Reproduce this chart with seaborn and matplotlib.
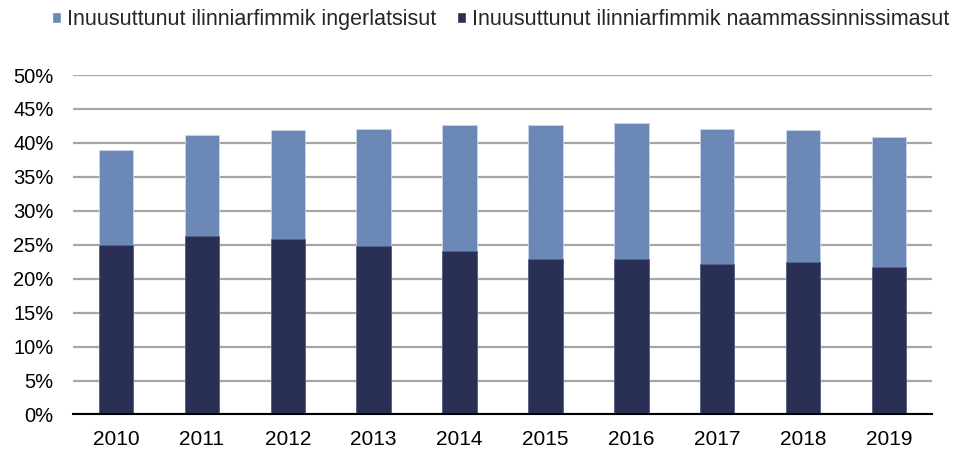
import numpy as np
import pandas as pd
import matplotlib
matplotlib.use("Agg")
import matplotlib.pyplot as plt
import seaborn as sns
from matplotlib.patches import Patch
from matplotlib.ticker import PercentFormatter

years = ["2010", "2011", "2012", "2013", "2014", "2015", "2016", "2017", "2018", "2019"]
# naammassinnissimasut (dark, bottom) and total share (%)
naammassinnissimasut = [25.0, 26.3, 25.8, 24.8, 24.1, 22.9, 22.9, 22.2, 22.5, 21.7]
total = [38.9, 41.2, 41.9, 42.1, 42.7, 42.7, 42.9, 42.0, 41.9, 40.8]

label_light = "Inuusuttunut ilinniarfimmik ingerlatsisut"
label_dark = "Inuusuttunut ilinniarfimmik naammassinnissimasut"
col_light = "#6B88B6"
col_dark = "#2A3055"

df = pd.DataFrame({"aar": years, "naam": naammassinnissimasut, "total": total})

sns.set_style("white")
plt.rcParams["font.family"] = ["Liberation Sans", "DejaVu Sans"]

fig = plt.figure(figsize=(9.63, 4.53), dpi=100)
ax = fig.add_axes([0.0758, 0.0850, 0.892, 0.7494])

# stacked: total drawn first, dark part over it
sns.barplot(data=df, x="aar", y="total", color=col_light, width=0.4,
            saturation=1, ax=ax, zorder=3, edgecolor="#C9D4E8", linewidth=0.6)
sns.barplot(data=df, x="aar", y="naam", color=col_dark, width=0.4,
            saturation=1, ax=ax, zorder=3, edgecolor="#5A6185", linewidth=0.6)

ax.set_ylim(0, 50)
ax.set_yticks(np.arange(0, 51, 5))
ax.yaxis.set_major_formatter(PercentFormatter(decimals=0))
ax.set_xlim(-0.5, 9.5)
ax.set_xlabel("")
ax.set_ylabel("")
ax.yaxis.grid(True, color="#A6A6A6", linewidth=1.6, zorder=0)
ax.set_axisbelow(True)
for s in ["top", "right", "left"]:
    ax.spines[s].set_visible(False)
ax.spines["bottom"].set_color("black")
ax.spines["bottom"].set_linewidth(1.5)
ax.spines["bottom"].set_zorder(4)
ax.tick_params(axis="both", length=0, colors="black")
ax.tick_params(axis="y", labelsize=14.5, pad=14)
ax.tick_params(axis="x", labelsize=15, pad=11)

handles = [Patch(facecolor=col_light, label=label_light),
           Patch(facecolor=col_dark, label=label_dark)]
fig.legend(handles=handles, loc="center", bbox_to_anchor=(0.52, 0.957), ncol=2,
           frameon=False, fontsize=15.5, handlelength=0.42, handleheight=0.42,
           handletextpad=0.28, columnspacing=0.93)

fig.savefig("out.png", dpi=100)
